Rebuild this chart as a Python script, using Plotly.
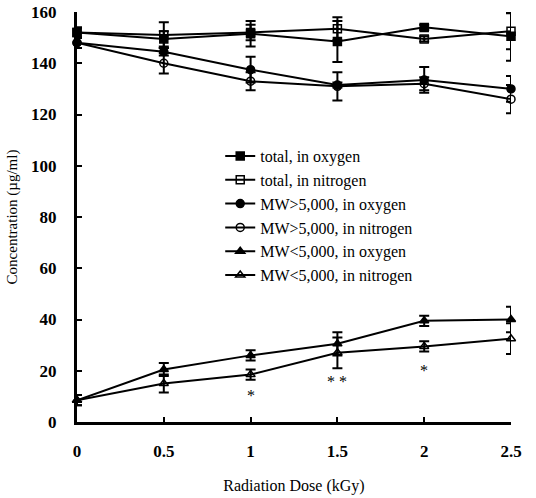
import plotly.graph_objects as go

dose = [0, 0.5, 1, 1.5, 2, 2.5]

total_o2 = [152, 149.5, 151.5, 148.5, 154, 150.5]
total_o2_err = [2, 3, 5, 8, 1, 9.5]
total_n2 = [152, 151, 152, 153.5, 149.5, 152.5]
total_n2_err = [2, 5, 3, 4.5, 1, 7]
hi_o2 = [148, 144.5, 137.5, 131.5, 133.5, 130]
hi_o2_err = [2, 1.5, 5, 1, 5, 5]
hi_n2 = [148, 140, 133, 131, 132, 126]
hi_n2_err = [2, 4, 3.5, 5.5, 2.5, 5.5]
lo_o2 = [8.5, 20.5, 26, 30.5, 39.5, 40]
lo_o2_err = [2, 2.5, 2, 4.5, 2, 5]
lo_n2 = [8.5, 15, 18.5, 27, 29.5, 32.5]
lo_n2_err = [2, 3.5, 2, 6, 2, 6]

names = ["total, in oxygen", "total, in nitrogen", "MW>5,000, in oxygen",
         "MW>5,000, in nitrogen", "MW<5,000, in oxygen", "MW<5,000, in nitrogen"]
series = [total_o2, total_n2, hi_o2, hi_n2, lo_o2, lo_n2]
errors = [total_o2_err, total_n2_err, hi_o2_err, hi_n2_err, lo_o2_err, lo_n2_err]
symbols = ["square", "square-open", "circle", "circle-open", "triangle-up", "triangle-up-open"]

star_x = [1, 1.5, 2]
star_y = [10.5, 16, 20]
star_text = ["*", "* *", "*"]

x_ticks = [0, 0.5, 1, 1.5, 2, 2.5]
y_ticks = [0, 20, 40, 60, 80, 100, 120, 140, 160]

SERIF = "Liberation Serif, Times New Roman, serif"

fig = go.Figure()
for name, ys, err, sym in zip(names, series, errors, symbols):
    fig.add_trace(go.Scatter(
        x=dose, y=ys, name=name, mode="lines+markers",
        line=dict(color="black", width=2),
        marker=dict(symbol=sym, size=8, color="black", line=dict(color="black", width=1.5)),
        error_y=dict(type="data", array=err, visible=True, color="black", thickness=2, width=5),
        cliponaxis=False,
    ))

for sx, sy, st in zip(star_x, star_y, star_text):
    fig.add_annotation(x=sx, y=sy, text=st, showarrow=False,
                       font=dict(family=SERIF, size=16, color="black"))

fig.update_layout(
    template="none",
    width=536, height=498,
    margin=dict(l=77, r=25, t=12, b=76),
    paper_bgcolor="white", plot_bgcolor="white",
    font=dict(family=SERIF, size=15, color="black"),
    showlegend=True,
    legend=dict(x=0.33, y=0.69, xanchor="left", yanchor="top",
                bgcolor="rgba(0,0,0,0)", font=dict(family=SERIF, size=16, color="black"),
                tracegroupgap=0),
)
fig.update_xaxes(
    range=[0, 2.5], tickvals=x_ticks, ticktext=[str(v) for v in x_ticks],
    showline=True, linecolor="black", linewidth=3, showgrid=False, zeroline=False,
    ticks="inside", ticklen=5, tickwidth=2, tickcolor="black",
    ticklabelstandoff=12,
    tickfont=dict(family=SERIF, size=17, weight="bold", color="black"),
    title=dict(text="Radiation Dose (kGy)", font=dict(family=SERIF, size=16, color="black"), standoff=20),
)
fig.update_yaxes(
    range=[0, 160], tickvals=y_ticks,
    showline=True, linecolor="black", linewidth=3, showgrid=False, zeroline=False,
    ticks="inside", ticklen=5, tickwidth=2, tickcolor="black",
    ticklabelstandoff=14,
    tickfont=dict(family=SERIF, size=17, weight="bold", color="black"),
    title=dict(text="Concentration (µg/ml)", font=dict(family=SERIF, size=15, color="black"), standoff=10),
)

fig.write_html("out.html")
